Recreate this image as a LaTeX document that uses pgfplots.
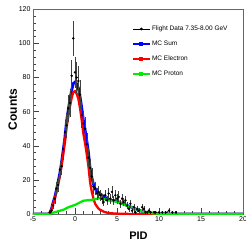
\documentclass[border=0pt]{standalone}
\usepackage{fontspec}
\setmainfont{Liberation Sans}
\usepackage{pgfplots}
\pgfplotsset{compat=1.18}
\usepackage{pgfplotstable}
\definecolor{rgreen}{RGB}{0,235,0}
\definecolor{rblue}{RGB}{0,0,255}
\definecolor{rred}{RGB}{255,0,0}

\pgfplotstableread{
x y e
-3.0 1 1.0
-2.8 2 1.4
-2.6 5 2.2
-2.4 9 3.0
-2.2 15 3.9
-2.0 17 4.1
-1.8 26 5.1
-1.6 28 5.3
-1.4 38 6.2
-1.2 48 6.9
-1.0 52 7.2
-0.8 62 7.9
-0.6 65 8.1
-0.4 81 9.0
-0.2 103 10.1
0.0 83 9.1
0.2 80 8.9
0.4 78 8.8
0.6 70 8.4
0.8 58 7.6
1.0 53 7.3
1.2 50 7.1
1.4 41 6.4
1.6 33 5.7
1.8 27 5.2
2.0 22 4.7
2.2 16 4.0
2.4 15 3.9
2.6 12 3.5
2.8 13 3.6
3.0 11 3.3
3.2 9 3.0
3.4 7 2.6
3.6 11 3.3
3.8 8 2.8
4.0 12 3.5
4.2 9 3.0
4.4 13 3.6
4.6 8 2.8
4.8 11 3.3
5.0 9 3.0
5.2 10 3.2
5.4 6 2.4
5.6 9 3.0
5.8 7 2.6
6.0 8 2.8
6.2 5 2.2
6.4 3 1.7
6.6 6 2.4
6.8 2 1.4
7.0 4 2.0
7.2 1 1.0
7.4 3 1.7
7.6 2 1.4
8.0 4 2.0
8.2 3 1.7
8.4 1 1.0
8.6 1 1.0
8.8 2 1.4
9.0 1 1.0
9.4 1 1.0
9.6 1 1.0
10.0 1 1.0
10.4 1 1.0
10.8 1 1.0
11.2 2 1.4
11.6 1 1.0
12.0 1 1.0
}\datatab

\pgfplotstableread{
x R G S
-5 0 0 0
-3.2 0 0 0
-3.0 0.5 0.1 0.6
-2.8 2.5 0.5 3
-2.6 6 0.8 6.8
-2.4 9 1.0 10
-2.2 13 1.3 14.3
-2.0 17.5 1.6 19.1
-1.8 22 1.9 23.9
-1.6 28 2.2 30.2
-1.4 35 2.5 37.5
-1.2 42 2.8 44.8
-1.0 51 3.5 54.5
-0.8 57 3.9 60.9
-0.6 63 4.3 67.3
-0.4 68 4.6 72.6
-0.2 71.5 5.0 76.5
0.0 72 5.3 77.3
0.2 70.5 5.8 76.3
0.4 67.5 6.3 73.8
0.6 62 6.8 68.8
0.8 55 7.3 62.3
1.0 47 7.8 54.8
1.2 41.5 7.9 49.4
1.4 35 8.0 43
1.6 28 8.1 36.1
1.8 18.5 8.2 26.7
2.0 13 8.3 21.3
2.2 9 8.5 17.5
2.4 6 8.7 14.7
2.6 4.5 8.9 13.4
2.8 3.2 9.1 12.3
3.0 2.4 9.4 11.8
3.2 2.0 9.1 11.1
3.4 1.4 8.8 10.2
3.6 1.1 8.6 9.7
3.8 0.8 8.3 9.1
4.0 0.6 8.0 8.6
4.4 0.4 7.6 8.0
4.8 0.25 7.4 7.65
5.2 0.2 6.9 7.1
5.6 0.1 6.1 6.2
6.0 0.1 5.3 5.4
6.4 0.05 4.5 4.55
6.8 0 3.8 3.8
7.2 0 3.0 3.0
7.6 0 2.3 2.3
8.0 0 1.5 1.5
8.4 0 1.1 1.1
8.8 0 0.8 0.8
9.2 0 0.5 0.5
9.6 0 0.3 0.3
10.0 0 0.2 0.2
10.5 0 0.05 0.05
11 0 0 0
20 0 0 0
}\mctab

\begin{document}
\begin{tikzpicture}
\begin{axis}[
  at={(0,0)}, anchor=south west,
  scale only axis, width=210pt, height=204.7pt,
  xmin=-5, xmax=20, ymin=0, ymax=120,
  xtick={-5,0,...,20}, ytick={0,20,...,120},
  minor x tick num=4, minor y tick num=4,
  tick align=inside, xtick pos=left, ytick pos=left,
  major tick length=6pt, minor tick length=3pt,
  tick style={black!75, line width=0.5pt},
  axis line style={black!60, line width=0.6pt},
  /pgf/number format/assume math mode=true,
  ticklabel style={font=\fontsize{7}{8}\selectfont},
  xticklabel style={yshift=1pt},
  yticklabel style={xshift=1pt},
  xlabel={PID}, ylabel={Counts},
  xlabel style={at={(axis description cs:0.502,-0.1075)}, anchor=center, font=\bfseries\fontsize{11}{12}\selectfont},
  ylabel style={at={(axis description cs:-0.097,0.51)}, anchor=center, font=\bfseries\fontsize{12}{13}\selectfont},
  legend style={at={(axis description cs:0.455,0.935)}, anchor=north west, draw=none, fill=none,
    font=\fontsize{6.5}{7}\selectfont, row sep=7pt, nodes={inner sep=1pt}},
  legend cell align=left,
]
\addlegendimage{black, line width=0.6pt, mark=*, mark size=1.1pt}
\addlegendentry{Flight Data 7.35-8.00 GeV}
\addlegendimage{rblue, line width=2.2pt, mark=square*, mark size=1pt}
\addlegendentry{MC Sum}
\addlegendimage{rred, line width=2.2pt, mark=square*, mark size=1pt}
\addlegendentry{MC Electron}
\addlegendimage{rgreen, line width=2.2pt, mark=square*, mark size=1pt}
\addlegendentry{MC Proton}

\addplot[rblue, line width=2.8pt, forget plot] table[x=x, y=S] {\mctab};
\addplot[rred, line width=2.3pt, forget plot] table[x=x, y=R] {\mctab};
\addplot[rgreen, line width=2.3pt, forget plot] table[x=x, y=G] {\mctab};
\addplot[only marks, black, mark=*, mark size=1pt, forget plot,
  error bars/.cd, y dir=both, y explicit, error mark=none,
  error bar style={black!75, line width=0.5pt}]
  table[x=x, y=y, y error=e] {\datatab};

\node[font=\fontsize{18}{18}\selectfont, anchor=base, inner sep=0pt] at (axis description cs:0.870,-0.125) {7};
\end{axis}
\pgfresetboundingbox
\useasboundingbox (-33pt,-28pt) rectangle (213pt,214pt);
\end{tikzpicture}
\end{document}
